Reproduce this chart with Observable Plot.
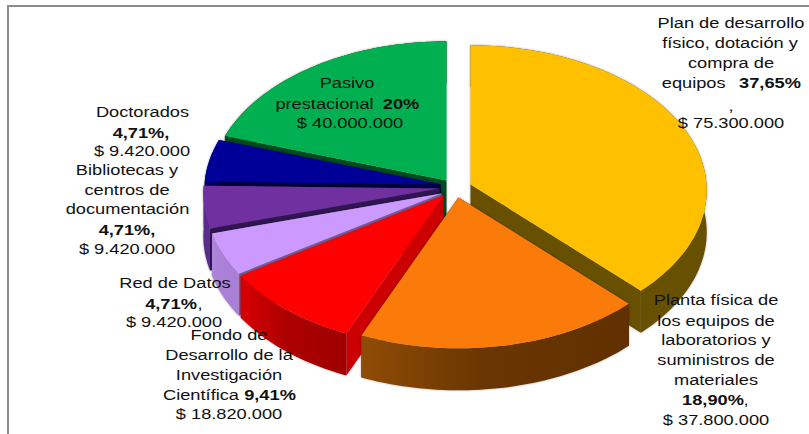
<!DOCTYPE html>
<html>
<head>
<meta charset="utf-8">
<script src="https://cdn.jsdelivr.net/npm/d3@7"></script>
<script src="https://cdn.jsdelivr.net/npm/@observablehq/plot@0.6"></script>
<style>
  html, body { margin: 0; padding: 0; background: #fff; }
  svg { display: block; }
  g[aria-label="text"] { transform: scaleX(1.2); transform-origin: 0 0; }
  g[aria-label="line"] { filter: drop-shadow(0 0 1px rgba(0,0,0,.35)); }
</style>
</head>
<body>
<div id="chart"></div>
<script>
// ---- data ----
const categories = ["Plan de desarrollo físico, dotación y compra de equipos",
  "Planta física de los equipos de laboratorios y suministros de materiales",
  "Fondo de Desarrollo de la Investigación Científica", "Red de Datos",
  "Bibliotecas y centros de documentación", "Doctorados", "Pasivo prestacional"];
const amounts = [75300000, 37800000, 18820000, 9420000, 9420000, 9420000, 40000000];
const percents = ["37,65%", "18,90%", "9,41%", "4,71%", "4,71%", "4,71%", "20%"];
const money = ["$ 75.300.000", "$ 37.800.000", "$ 18.820.000", "$ 9.420.000", "$ 9.420.000", "$ 9.420.000", "$ 40.000.000"];

// ---- style ----
const topColors = ["#FFC000", "#FA7A0A", "#FF0000", "#CC99FF", "#7030A0", "#000099", "#00B050"];
const cutColors = ["#675000", "#603000", "#CC0000", "#7A5F9B", "#2F1650", "#00003C", "#004A20"];
const wallLeft = ["#675000", "#8F4C05", "#D80000", "#AD85DA", "#5A2B8C", "#000066", "#004A20"];
const wallRight = ["#675000", "#613000", "#A00000", "#A97FD6", "#5A2B8C", "#000066", "#004A20"];
const centerX = [470, 458, 443, 441, 439, 440, 446];
const centerY = [184, 197, 195, 193, 188, 184, 180];
const drawOrder = [6, 5, 4, 3, 2, 0, 1];
const radiusX = 236, radiusY = 145, nearness = 0.04, depth = 42;

// ---- pie geometry, projected ----
const arcs = d3.pie().sort(null).value(d => d)(amounts);
function rim(i, a) {
  const near = 1 - nearness * Math.cos(a);
  return [centerX[i] + radiusX * near * Math.sin(a), centerY[i] - radiusY * near * Math.cos(a)];
}
function sliceRows(i) {
  const {startAngle: a0, endAngle: a1} = arcs[i];
  const n = Math.max(8, Math.ceil((a1 - a0) * 40));
  const rows = [];
  const push = (id, fill, pts) => pts.forEach(([x, y]) => rows.push({id, fill, x, y}));
  const c = [centerX[i], centerY[i]];
  for (const a of [a0, a1]) {
    const p = rim(i, a);
    push(`cut${i}-${a}`, cutColors[i], [c, p, [p[0], p[1] + depth], [c[0], c[1] + depth]]);
  }
  const edge = d3.range(n + 1).map(k => rim(i, a0 + (a1 - a0) * k / n));
  push(`wall${i}`, `url(#wall${i})`, [...edge, ...edge.slice().reverse().map(([x, y]) => [x, y + depth])]);
  push(`top${i}`, topColors[i], [c, ...edge]);
  return rows;
}

// ---- label runs ----
const regular = [
  ["Plan de desarrollo", 731, 23], ["físico, dotación y", 730, 43], ["compra de", 731, 63], ["equipos", 693.7, 83],
  [",", 731, 106], [money[0], 731, 123],
  ["Planta física de", 716, 300], ["los equipos de", 716, 321], ["laboratorios y", 716, 340], ["suministros de", 716, 360],
  ["materiales", 716, 380], [",", 746, 400], [money[1], 716, 420],
  ["Fondo de", 229, 335], ["Desarrollo de la", 229, 355], ["Investigación", 229, 375], ["Científica", 201, 395], [money[2], 229, 414],
  ["Red de Datos", 175, 283], [",", 200, 304], [money[3], 174, 322],
  ["Bibliotecas y", 127, 170], ["centros de", 127, 190], ["documentación", 127.5, 209], [money[4], 127, 249],
  ["Doctorados", 142.5, 112], [money[5], 142, 151],
  ["Pasivo", 347, 83], ["prestacional", 324.5, 104], [money[6], 350, 123]
];
const bold = [
  [percents[0], 770, 83], [percents[1], 713, 400], [percents[2], 270, 395], [percents[3], 171, 304],
  [percents[4] + ",", 127, 230], [percents[5] + ",", 141, 133], [percents[6], 401, 104]
];
const textOptions = (fontWeight) => ({
  x: d => d[1] / 1.2, y: d => d[2], text: d => d[0], textAnchor: "middle", lineAnchor: "middle",
  fontSize: 15.2, fontFamily: "Liberation Sans", fontWeight, fill: "#111"
});

const plot = Plot.plot({
  width: 809, height: 434, margin: 0,
  x: {domain: [0, 809], range: [0, 809], axis: null},
  y: {domain: [0, 434], range: [0, 434], axis: null},
  color: {type: "identity"},
  style: {background: "#fff"},
  marks: [
    Plot.ruleY([5.5], {x1: 7, x2: 809, stroke: "#8c8c8c", strokeWidth: 2}),
    Plot.ruleX([7.5], {y1: 5, y2: 434, stroke: "#8c8c8c", strokeWidth: 2}),
    ...drawOrder.map(i => Plot.line(sliceRows(i), {
      x: "x", y: "y", z: "id", fill: "fill", stroke: "none", curve: "linear-closed"
    })),
    Plot.text(regular, textOptions("normal")),
    Plot.text(bold, textOptions("bold"))
  ]
});
const defs = d3.select(plot).insert("defs", ":first-child");
amounts.forEach((_, i) => {
  const g = defs.append("linearGradient").attr("id", `wall${i}`);
  g.append("stop").attr("offset", "0%").attr("stop-color", wallLeft[i]);
  g.append("stop").attr("offset", "45%").attr("stop-color", d3.interpolateRgb(wallLeft[i], wallRight[i])(0.8));
  g.append("stop").attr("offset", "100%").attr("stop-color", wallRight[i]);
});
document.getElementById("chart").append(plot);
</script>
</body>
</html>
